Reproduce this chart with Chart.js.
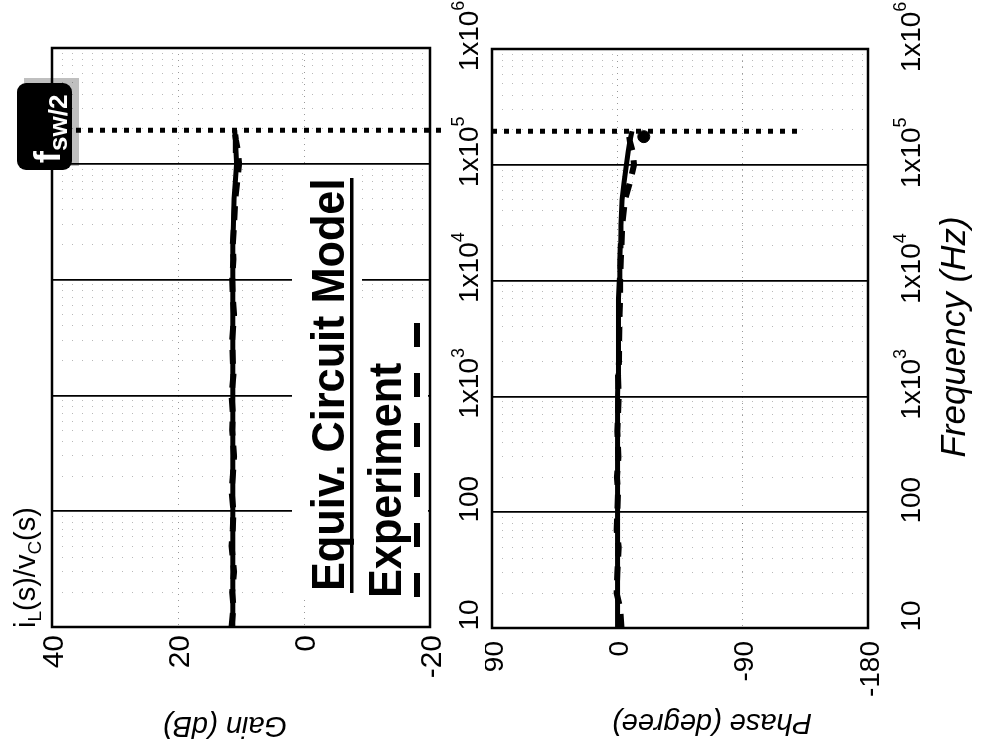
<!DOCTYPE html>
<html>
<head>
<meta charset="utf-8">
<script src="https://cdn.jsdelivr.net/npm/chart.js@4.4.0/dist/chart.umd.min.js"></script>
<style>
body { margin: 0; background: #fff; width: 985px; height: 748px; overflow: hidden; position: relative; }
canvas { position: absolute; top: 0; }
#gainChart { left: 0; }
#phaseChart { left: 485px; }
</style>
</head>
<body>
<canvas id="gainChart" width="485" height="748"></canvas>
<canvas id="phaseChart" width="500" height="748"></canvas>
<script>
// frequency points (Hz) shared by both series
var freq = [10, 15, 20, 30, 50, 70, 100, 150, 200, 300, 500, 700, 1000, 1500, 2000, 3000, 5000, 7000,
            10000, 15000, 20000, 30000, 50000, 70000, 100000, 130000, 160000, 195000];
var gainModel = [11.3, 11.3, 11.3, 11.3, 11.3, 11.3, 11.3, 11.3, 11.3, 11.3, 11.3, 11.3, 11.3, 11.3,
                 11.3, 11.3, 11.3, 11.3, 11.3, 11.3, 11.3, 11.2, 11.1, 10.9, 10.7, 10.8, 10.9, 11.0];
var gainExp = [11.5, 11.2, 11.4, 11.1, 11.5, 11.3, 11.2, 11.5, 11.3, 11.1, 11.4, 11.3, 11.5, 11.2,
               11.3, 11.4, 11.1, 11.3, 11.4, 11.2, 11.3, 11.1, 10.9, 10.6, 10.3, 10.5, 10.8, 11.0];
var phaseModel = [0, 0, 0, 0, 0, -0.1, -0.1, -0.2, -0.2, -0.3, -0.3, -0.4, -0.4, -0.5,
                  -0.6, -0.7, -0.9, -1.1, -1.4, -1.8, -2.1, -2.6, -3.4, -4.8, -6.5, -7.8, -9, -10.5];
var phaseExp = [-3, -2, 0.5, 0, -1, 0.5, 0, -0.5, 0.3, -0.8, 0, -0.5, -1, -0.5,
                -1.2, -1.3, -1.6, -2, -2, -2.5, -3, -3.5, -5.5, -9, -12, -11, -9, -8];
var expEndFreq = [175000];
var expEndPhase = [-19];

var fswHalf = 195000;
var gainMarkerSpan = [40, -22.5];
var phaseMarkerSpan = [90, -131];

var freqTicks = [10, 100, 1000, 10000, 100000, 1000000];
var freqTickLabels = [['10', ''], ['100', ''], ['1x10', '3'], ['1x10', '4'], ['1x10', '5'], ['1x10', '6']];
var gainTicks = [40, 20, 0, -20];
var gainTickLabels = ['40', '20', '0', '-20'];
var phaseTicks = [90, 0, -90, -180];
var phaseTickLabels = ['90', '0', '-90', '-180'];

var FONT = '"Liberation Sans", Arial, sans-serif';

// log grid: decades plus 2..9 in each decade
var yGrid = [];
freqTicks.forEach(function (d, i) {
  yGrid.push({value: d});
  if (i < freqTicks.length - 1) for (var m = 2; m < 10; m++) yGrid.push({value: d * m});
});
function isDecade(v) {
  var l = Math.log10(v);
  return Math.abs(l - Math.round(l)) < 1e-9;
}

function pts(xs, ys) {
  return xs.map(function (f, i) { return {x: ys[i], y: f}; });
}

// text drawn piece by piece, each piece [text, size, shift, weight]
function rich(ctx, x, y, angle, parts, align, baseline, style, stretch) {
  ctx.save();
  ctx.translate(x, y);
  ctx.rotate(angle);
  if (stretch) ctx.scale(stretch, 1);
  ctx.textAlign = 'left';
  ctx.textBaseline = baseline || 'alphabetic';
  var w = 0;
  parts.forEach(function (p) {
    ctx.font = (style || '') + ' ' + (p[3] || 'normal') + ' ' + p[1] + 'px ' + FONT;
    p.w = ctx.measureText(p[0]).width;
    w += p.w;
  });
  var cx = align === 'center' ? -w / 2 : (align === 'right' ? -w : 0);
  parts.forEach(function (p) {
    ctx.font = (style || '') + ' ' + (p[3] || 'normal') + ' ' + p[1] + 'px ' + FONT;
    ctx.fillText(p[0], cx, p[2] || 0);
    cx += p.w;
  });
  ctx.restore();
}

var frame = {
  id: 'frame',
  afterDatasetsDraw: function (chart) {
    var a = chart.chartArea, ctx = chart.ctx;
    ctx.save();
    ctx.strokeStyle = '#000';
    ctx.lineWidth = 2.5;
    ctx.strokeRect(a.left, a.top, a.right - a.left, a.bottom - a.top);
    ctx.restore();
  }
};

function freqLabels(chart, xPos) {
  var ctx = chart.ctx, ys = chart.scales.y;
  ctx.fillStyle = '#000';
  freqTicks.forEach(function (v, i) {
    var lab = freqTickLabels[i];
    var parts = [[lab[0], 28, 0]];
    if (lab[1]) parts.push([lab[1], 18, -11]);
    rich(ctx, xPos, ys.getPixelForValue(v) - 12, -Math.PI / 2, parts, 'center', 'middle');
  });
}

function makePanel(id, pad, xMin, xMax, xTicks, datasets, extra) {
  return new Chart(document.getElementById(id), {
    type: 'scatter',
    data: {datasets: datasets},
    options: {
      responsive: false,
      animation: false,
      layout: {padding: pad},
      plugins: {legend: {display: false}, tooltip: {enabled: false}},
      scales: {
        x: {
          type: 'linear', min: xMin, max: xMax, reverse: true,
          afterBuildTicks: function (s) { s.ticks = xTicks.map(function (v) { return {value: v}; }); },
          ticks: {display: false},
          grid: {drawTicks: false, lineWidth: 1, color: 'rgba(0,0,0,0.4)'},
          border: {display: false, dash: function (c) { return c.tick ? [1, 5] : []; }}
        },
        y: {
          type: 'logarithmic', min: 10, max: 1000000,
          afterBuildTicks: function (s) { s.ticks = yGrid.map(function (t) { return {value: t.value}; }); },
          ticks: {display: false},
          grid: {
            drawTicks: false,
            color: function (c) { return c.tick && isDecade(c.tick.value) ? '#000' : 'rgba(0,0,0,0.28)'; },
            lineWidth: function (c) { return c.tick && isDecade(c.tick.value) ? 1.8 : 1; }
          },
          border: {display: false, dash: function (c) { return c.tick && !isDecade(c.tick.value) ? [1, 9] : []; }}
        }
      }
    },
    plugins: [frame, extra]
  });
}

function series(model, exp) {
  return [
    {data: pts(freq, model), showLine: true, borderColor: '#000', borderWidth: 5, pointRadius: 0, tension: 0},
    {data: pts(freq, exp), showLine: true, borderColor: '#000', borderWidth: 6, borderDash: [14, 10], pointRadius: 0, tension: 0}
  ];
}

function marker(span) {
  return {data: [{x: span[0], y: fswHalf}, {x: span[1], y: fswHalf}], showLine: true, borderColor: '#000',
          borderWidth: 5, borderDash: [5, 7], pointRadius: 0, clip: false};
}

var gainExtra = {
  id: 'gainExtra',
  afterDraw: function (chart) {
    var ctx = chart.ctx, xs = chart.scales.x;
    ctx.fillStyle = '#000';
    gainTicks.forEach(function (v, i) {
      rich(ctx, xs.getPixelForValue(v) + 3, 635, -Math.PI / 2, [[gainTickLabels[i], 30, 0]], 'right', 'middle');
    });
    freqLabels(chart, 470);

    // legend box
    ctx.fillStyle = '#fff';
    ctx.fillRect(292, 168, 70, 432);
    ctx.fillRect(362, 300, 66, 300);
    ctx.fillStyle = '#000';
    rich(ctx, 344, 591, -Math.PI / 2, [['Equiv. Circuit Model', 46, 0, 'bold']], 'left', 'alphabetic', '', 0.94);
    ctx.fillRect(350, 178, 3.5, 415);
    rich(ctx, 401, 598, -Math.PI / 2, [['Experiment', 46, 0, 'bold']], 'left', 'alphabetic', '', 0.94);
    for (var yy = 597; yy > 320; yy -= 50) ctx.fillRect(414, yy - 24, 6, 24);

    // f_sw/2 tag
    ctx.fillStyle = 'rgba(0,0,0,0.25)';
    ctx.fillRect(24, 78, 55, 88);
    ctx.fillStyle = '#000';
    ctx.beginPath();
    ctx.roundRect(17, 83, 55, 87, 9);
    ctx.fill();
    ctx.fillStyle = '#fff';
    rich(ctx, 60, 163, -Math.PI / 2, [['f', 36, 0, 'bold'], ['sw/2', 26, 7, 'bold']], 'left');

    ctx.fillStyle = '#000';
    rich(ctx, 35, 628, -Math.PI / 2, [['i', 29, 0], ['L', 19, 6], ['(s)/v', 29, 0], ['C', 19, 6], ['(s)', 29, 0]], 'left');
    rich(ctx, 225, 725, Math.PI, [['Gain (dB)', 29, 0]], 'center', 'middle', 'italic');
  }
};

var phaseExtra = {
  id: 'phaseExtra',
  afterDraw: function (chart) {
    var ctx = chart.ctx, xs = chart.scales.x;
    ctx.fillStyle = '#000';
    phaseTicks.forEach(function (v, i) {
      rich(ctx, xs.getPixelForValue(v) + 3, 641, -Math.PI / 2, [[phaseTickLabels[i], 28, 0]], 'right', 'middle');
    });
    freqLabels(chart, 427);
    rich(ctx, 227, 722, Math.PI, [['Phase (degree)', 29, 0]], 'center', 'middle', 'italic');
    rich(ctx, 470, 337, -Math.PI / 2, [['Frequency (Hz)', 35, 0]], 'center', 'middle', 'italic');
  }
};

makePanel('gainChart', {left: 52, right: 55, top: 48, bottom: 121}, -20, 40, gainTicks,
  series(gainModel, gainExp).concat([marker(gainMarkerSpan)]), gainExtra);

var phaseSets = series(phaseModel, phaseExp);
phaseSets.push({data: pts(expEndFreq, expEndPhase), showLine: false, pointRadius: 6,
                backgroundColor: '#000', borderColor: '#000'});
phaseSets.push(marker(phaseMarkerSpan));
makePanel('phaseChart', {left: 7, right: 117, top: 49, bottom: 120}, -180, 90, phaseTicks, phaseSets, phaseExtra);
</script>
</body>
</html>
